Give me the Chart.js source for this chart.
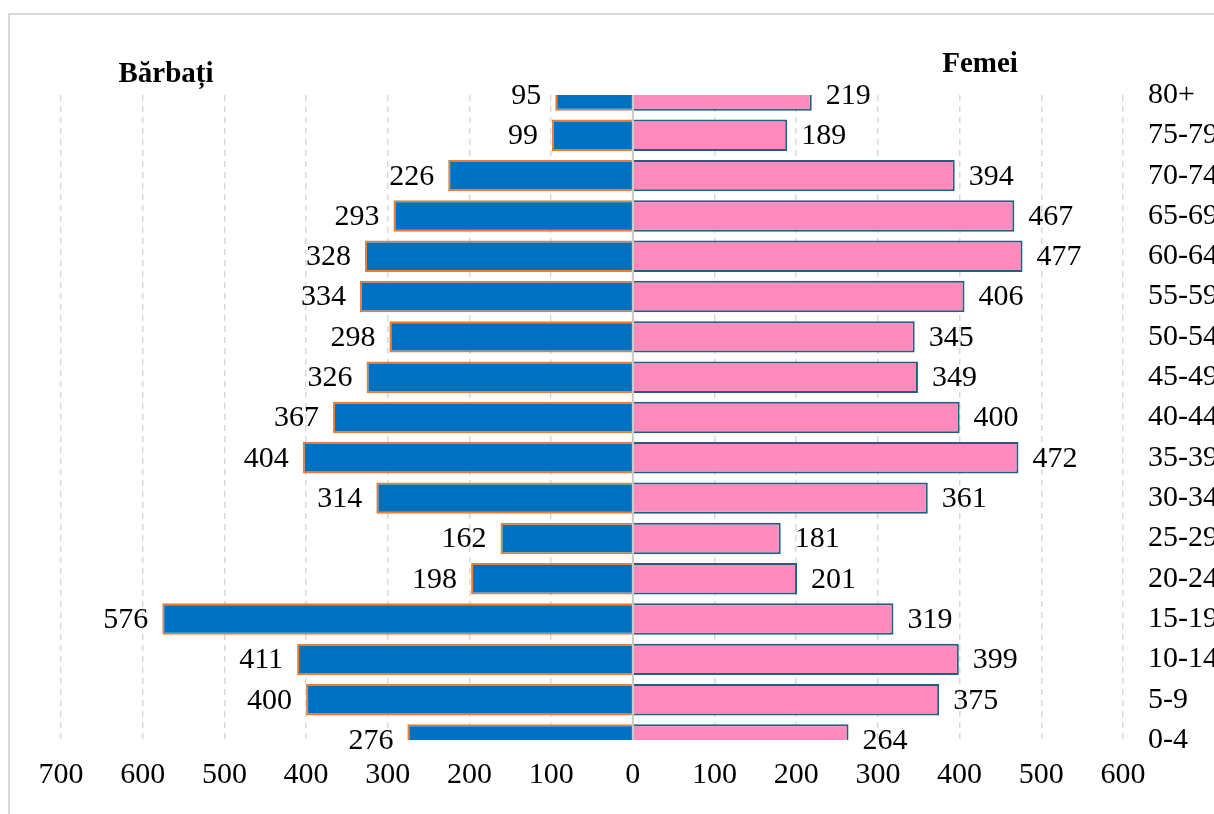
<!DOCTYPE html>
<html>
<head>
<meta charset="utf-8">
<script src="https://cdn.jsdelivr.net/npm/chart.js@4"></script>
<style>
  html, body { margin: 0; padding: 0; background: #fff; overflow: hidden; }
  body { width: 1214px; height: 814px; position: relative; font-family: "Liberation Serif", serif; }
  .frame { position: absolute; left: 8px; top: 13px; width: 1400px; height: 1000px; border: 2px solid #d9d9d9; }
  .wrap { position: absolute; left: 0; top: 0; width: 1214px; height: 814px; }
  .side-title { position: absolute; font-weight: bold; font-size: 29px; transform: translate(-50%, -50%); white-space: nowrap; }
</style>
</head>
<body>
<div class="frame"></div>
<div class="wrap"><canvas id="pyramid"></canvas></div>
<div class="side-title" style="left:166px; top:72px;">Bărbați</div>
<div class="side-title" style="left:980px; top:62px;">Femei</div>
<script>
// Age groups, top to bottom
const ageGroups = ['80+', '75-79', '70-74', '65-69', '60-64', '55-59', '50-54', '45-49',
    '40-44', '35-39', '30-34', '25-29', '20-24', '15-19', '10-14', '5-9', '0-4'];
const males = [95, 99, 226, 293, 328, 334, 298, 326, 367, 404, 314, 162, 198, 576, 411, 400, 276];
const females = [219, 189, 394, 467, 477, 406, 345, 349, 400, 472, 361, 181, 201, 319, 399, 375, 264];
const axisMin = -700;
const axisMax = 600;

const fontSize = 30;
const labelFont = fontSize + 'px "Liberation Serif", serif';

// solid zero line drawn above the bars
const zeroLine = {
    id: 'zeroLine',
    afterDatasetsDraw(chart) {
        const { ctx, chartArea, scales } = chart;
        const x = scales.x.getPixelForValue(0);
        ctx.save();
        ctx.strokeStyle = '#c8c8c8';
        ctx.lineWidth = 2;
        ctx.beginPath();
        ctx.moveTo(x, chartArea.top);
        ctx.lineTo(x, chartArea.bottom);
        ctx.stroke();
        ctx.restore();
    }
};

// value labels at bar ends
const barValues = {
    id: 'barValues',
    afterDatasetsDraw(chart) {
        const { ctx } = chart;
        ctx.save();
        ctx.font = labelFont;
        ctx.fillStyle = '#000';
        ctx.textBaseline = 'middle';
        chart.data.datasets.forEach((ds, di) => {
            const meta = chart.getDatasetMeta(di);
            meta.data.forEach((bar, i) => {
                const v = Math.abs(ds.data[i]);
                if (di === 0) {
                    ctx.textAlign = 'right';
                    ctx.fillText(v, bar.x - 14, bar.y + 1);
                } else {
                    ctx.textAlign = 'left';
                    ctx.fillText(v, bar.x + 14, bar.y + 1);
                }
            });
        });
        ctx.restore();
    }
};

const ctx = document.getElementById('pyramid').getContext('2d');
new Chart(ctx, {
    type: 'bar',
    data: {
        labels: ageGroups,
        datasets: [{
            label: 'Bărbați',
            data: males.map(v => -v),
            backgroundColor: '#0070c0',
            borderColor: '#ed7d31',
            borderWidth: 2,
            clip: 0
        }, {
            label: 'Femei',
            data: females,
            backgroundColor: '#ff8bbd',
            borderColor: '#1f5f80',
            borderWidth: 2,
            clip: 0
        }]
    },
    options: {
        indexAxis: 'y',
        responsive: true,
        maintainAspectRatio: false,
        animation: false,
        barPercentage: 0.78,
        categoryPercentage: 1,
        layout: { padding: { left: 61, top: 95, right: 0, bottom: 0 } },
        plugins: {
            legend: { display: false },
            tooltip: { enabled: false }
        },
        scales: {
            x: {
                stacked: true,
                min: axisMin,
                max: axisMax,
                grid: {
                    color: '#d9d9d9',
                    lineWidth: 1.5,
                    drawTicks: false
                },
                border: { display: false, dash: [6, 5] },
                ticks: {
                    stepSize: 100,
                    padding: 17,
                    color: '#000',
                    font: { family: '"Liberation Serif", serif', size: fontSize },
                    callback: v => Math.abs(v)
                },
                afterFit: scale => { scale.height = 74; }
            },
            y: {
                stacked: true,
                position: 'right',
                offset: false,
                grid: { display: false },
                border: { display: false },
                ticks: {
                    padding: 17,
                    color: '#000',
                    font: { family: '"Liberation Serif", serif', size: fontSize }
                },
                afterFit: scale => { scale.width = 91; }
            }
        }
    },
    plugins: [zeroLine, barValues]
});
</script>
</body>
</html>
